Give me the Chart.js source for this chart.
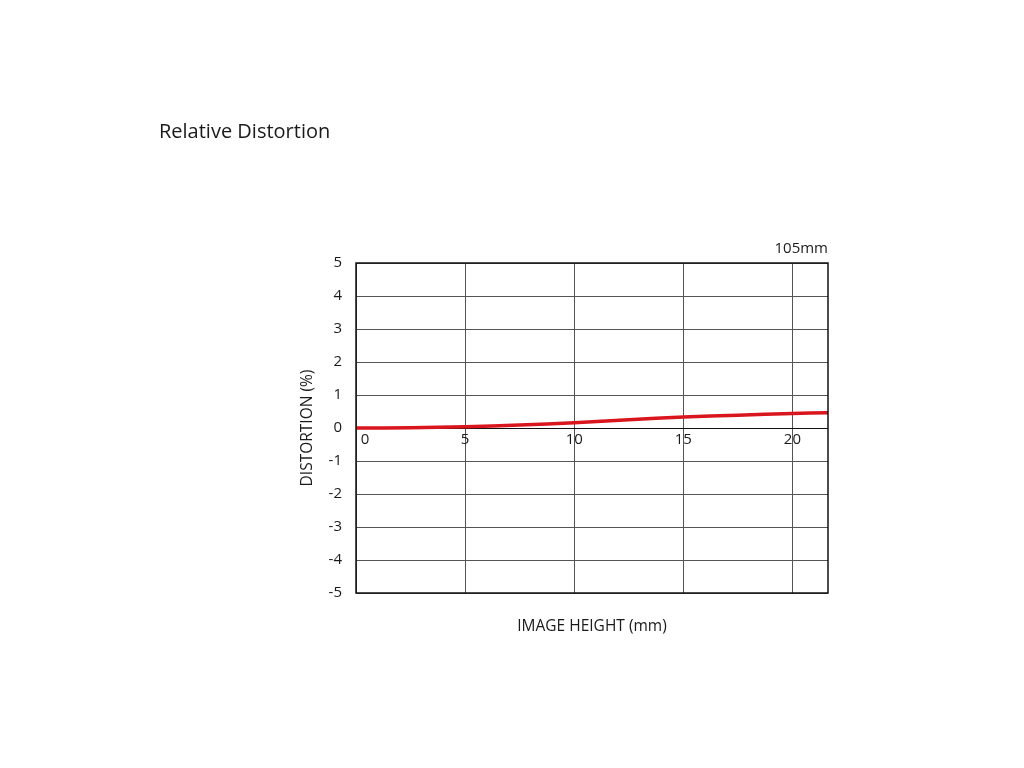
<!DOCTYPE html>
<html>
<head>
<meta charset="utf-8">
<script src="https://cdn.jsdelivr.net/npm/chart.js@4.4.0/dist/chart.umd.min.js"></script>
<style>
  html, body { margin: 0; padding: 0; background: #fff; }
  #wrap { width: 1024px; height: 768px; position: relative; }
</style>
</head>
<body>
<div id="wrap"><canvas id="myChart" width="1024" height="768"></canvas></div>
<script>
// image height (mm) and relative distortion (%)
const imageHeight = [0, 2.5, 5, 7.5, 10, 12.5, 15, 17.5, 20, 21.63];
const distortion = [0, 0.01, 0.04, 0.09, 0.16, 0.25, 0.33, 0.39, 0.44, 0.46];
const xTicks = [0, 5, 10, 15, 20];
const chartTitle = 'Relative Distortion';
const focalLabel = '105mm';
const xTitle = 'IMAGE HEIGHT (mm)';
const yTitle = 'DISTORTION (%)';

const fontFamily = '"Open Sans", Roboto, sans-serif';

// 文字跟外框都自己畫
const textPlugin = {
    id: 'textPlugin',
    afterDraw(chart) {
        const ctx = chart.ctx;
        const area = chart.chartArea;
        const xs = chart.scales.x;
        const ys = chart.scales.y;
        ctx.save();

        // 外框
        ctx.strokeStyle = '#111';
        ctx.lineWidth = 1.5;
        ctx.strokeRect(area.left, area.top, area.right - area.left, area.bottom - area.top);

        ctx.fillStyle = '#1a1a1a';
        ctx.font = '20px ' + fontFamily;
        ctx.textAlign = 'left';
        ctx.textBaseline = 'alphabetic';
        ctx.fillText(chartTitle, 159, 138);

        ctx.font = '15px ' + fontFamily;
        ctx.textAlign = 'right';
        ctx.fillText(focalLabel, area.right, 253);

        // x 軸刻度 (畫在 0 線下方)
        const zeroY = ys.getPixelForValue(0);
        ctx.textAlign = 'center';
        ctx.textBaseline = 'top';
        xTicks.forEach(function (v) {
            let px = xs.getPixelForValue(v);
            if (v === 0) px += 9;
            ctx.fillText(String(v), px, zeroY + 4);
        });

        ctx.textBaseline = 'middle';
        ctx.font = '15.5px ' + fontFamily;
        ctx.fillText(xTitle, (area.left + area.right) / 2, 627);

        ctx.translate(308, (area.top + area.bottom) / 2);
        ctx.rotate(-Math.PI / 2);
        ctx.fillText(yTitle, 0, 0);
        ctx.restore();
    }
};

const ctx = document.getElementById('myChart').getContext('2d');
new Chart(ctx, {
    type: 'line',
    data: {
        datasets: [{
            data: imageHeight.map((x, i) => ({ x: x, y: distortion[i] })),
            borderColor: '#d9161e',
            borderWidth: 3.5,
            pointRadius: 0,
            tension: 0.4,
            fill: false
        }]
    },
    options: {
        responsive: false,
        animation: false,
        layout: { padding: { left: 296, right: 196, top: 263, bottom: 175 } },
        plugins: {
            legend: { display: false },
            tooltip: { enabled: false }
        },
        scales: {
            x: {
                type: 'linear',
                min: 0,
                max: 21.63,
                ticks: { stepSize: 5, includeBounds: false, display: false },
                grid: { color: '#555', lineWidth: 1, drawTicks: false },
                border: { display: false },
                afterFit: function (scale) { scale.height = 0; }
            },
            y: {
                min: -5,
                max: 5,
                ticks: {
                    stepSize: 1,
                    padding: 14,
                    color: '#1a1a1a',
                    font: { size: 15, family: fontFamily }
                },
                grid: {
                    drawTicks: false,
                    lineWidth: 1,
                    color: c => (c.tick && c.tick.value === 0) ? '#111' : '#555'
                },
                border: { display: false },
                afterFit: function (scale) { scale.width = 60; }
            }
        }
    },
    plugins: [textPlugin]
});
</script>
</body>
</html>
